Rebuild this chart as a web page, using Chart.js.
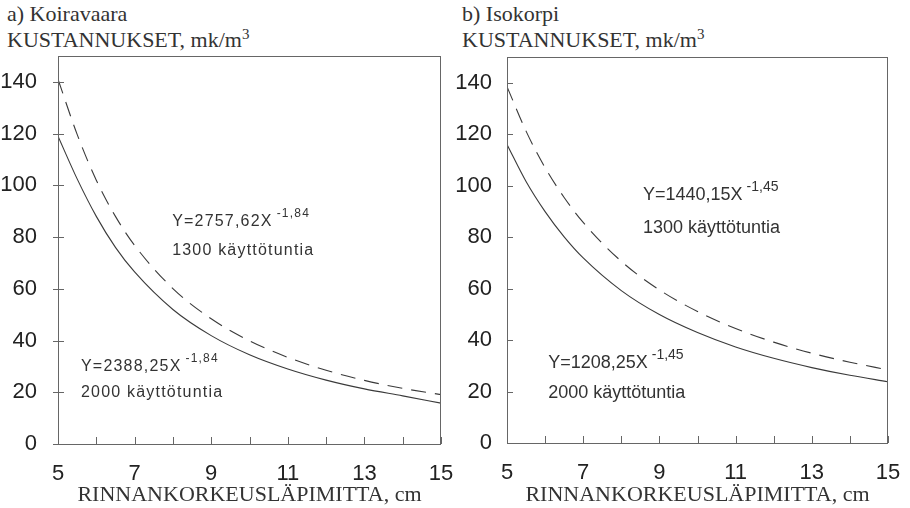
<!DOCTYPE html>
<html>
<head>
<meta charset="utf-8">
<script src="https://cdn.jsdelivr.net/npm/chart.js@4.4.1/dist/chart.umd.min.js"></script>
<style>
  body { margin: 0; background: #fff; width: 910px; height: 508px; position: relative; overflow: hidden; }
  .title { position: absolute; font-family: "Liberation Serif", "Times New Roman", serif; font-size: 22px; color: #333; line-height: 26px; }
  .title sup { font-size: 15px; vertical-align: 8px; line-height: 0; }
  .panel { position: absolute; top: 50px; width: 455px; height: 458px; }
  canvas { display: block; }
</style>
</head>
<body>
<div class="title" style="left:7px;top:1px">a) Koiravaara<br>KUSTANNUKSET, mk/m<sup>3</sup></div>
<div class="title" style="left:462px;top:1px">b) Isokorpi<br>KUSTANNUKSET, mk/m<sup>3</sup></div>
<div class="panel" style="left:0"><canvas id="chartA" width="455" height="458"></canvas></div>
<div class="panel" style="left:455px"><canvas id="chartB" width="455" height="458"></canvas></div>
<script>
// rinnankorkeusläpimitta, cm
const diameters = [5, 5.5, 6, 6.5, 7, 8, 9, 10, 11, 12, 13, 14, 15];
// a) Koiravaara, mk/m3
const koiraDashed = [141, 119.7, 102.0, 88.0, 76.8, 60.1, 48.4, 39.9, 33.5, 28.5, 24.6, 21.5, 19.1];
const koiraSolid = [119, 102.5, 88.0, 76.0, 66.5, 52.0, 41.9, 34.5, 29.0, 24.7, 21.3, 18.6, 15.8];
// b) Isokorpi, mk/m3
const isoDashed = [138.5, 121.2, 107.0, 95.4, 85.7, 70.6, 59.5, 51.1, 44.5, 39.2, 34.9, 31.4, 28.4];
const isoSolid = [116, 101.6, 89.9, 80.1, 71.9, 59.2, 49.9, 42.9, 37.3, 32.9, 29.3, 26.3, 23.8];
const xTicks = [5, 6, 7, 8, 9, 10, 11, 12, 13, 14, 15];
const xLabels = [5, 7, 9, 11, 13, 15];
const yTicks = [0, 20, 40, 60, 80, 100, 120, 140];

const ink = '#3a3a3a';
const sans = '"Liberation Sans", Arial, sans-serif';

const frame = {
  id: 'frame',
  afterDraw(chart, args, opts) {
    const { ctx, scales: { x, y } } = chart;
    const l = Math.round(x.getPixelForValue(5)), r = Math.round(x.getPixelForValue(15)) - 1;
    const t = Math.round(y.getPixelForValue(150)), b = Math.round(y.getPixelForValue(0));
    ctx.save();
    ctx.fillStyle = '#666';
    // box
    ctx.fillRect(l, t, r - l + 1, 1);
    ctx.fillRect(l, b, r - l + 1, 1);
    ctx.fillRect(l, t, 1, b - t + 1);
    ctx.fillRect(r, t, 1, b - t + 1);
    // ticks inside
    yTicks.forEach(v => {
      const py = Math.round(y.getPixelForValue(v));
      ctx.fillRect(l - opts.out, py, opts.out + 6, 1);
    });
    xTicks.forEach(v => {
      const px = Math.round(x.getPixelForValue(v));
      ctx.fillRect(px, b - 7, 1, 7);
    });
    // equations
    ctx.fillStyle = '#333';
    ctx.textBaseline = 'middle';
    ctx.letterSpacing = opts.spacing + 'px';
    opts.notes.forEach(n => {
      const px = x.getPixelForValue(n.x);
      ctx.font = opts.size + 'px ' + sans;
      ctx.fillText(n.eq, px, y.getPixelForValue(n.y));
      const w = ctx.measureText(n.eq).width;
      ctx.font = (opts.size - 4) + 'px ' + sans;
      ctx.fillText(n.exp, px + w + 4, y.getPixelForValue(n.y) - 8);
      ctx.font = opts.size + 'px ' + sans;
      ctx.fillText(n.hours, px, y.getPixelForValue(n.y2));
    });
    ctx.restore();
  }
};

const noPad = s => { s.paddingTop = 0; s.paddingBottom = 0; s.paddingLeft = 0; s.paddingRight = 0; };

function makeChart(id, dashed, solid, axisW, rightPad, topPad, bottom, notes, out, spacing, size, labelPad) {
  const pts = arr => arr.map((v, i) => ({ x: diameters[i], y: v }));
  new Chart(document.getElementById(id), {
    type: 'line',
    data: {
      datasets: [
        { data: pts(dashed), borderColor: ink, borderWidth: 1.1, borderDash: [15, 9], pointRadius: 0, cubicInterpolationMode: 'monotone' },
        { data: pts(solid), borderColor: ink, borderWidth: 1.1, pointRadius: 0, cubicInterpolationMode: 'monotone' },
      ],
    },
    options: {
      responsive: false,
      animation: false,
      layout: { autoPadding: false, padding: { top: topPad, right: rightPad, left: 0, bottom: 0 } },
      plugins: {
        legend: { display: false },
        tooltip: { enabled: false },
        frame: { notes, out, spacing, size },
      },
      scales: {
        x: {
          type: 'linear', min: 5, max: 15,
          afterBuildTicks: s => { s.ticks = xLabels.map(v => ({ value: v })); },
          afterFit: s => { s.height = 458 - bottom; noPad(s); },
          grid: { display: false },
          border: { display: false },
          ticks: { color: '#222', font: { family: sans, size: 22 }, padding: 9, maxRotation: 0 },
          title: { display: true, text: 'RINNANKORKEUSLÄPIMITTA, cm', color: '#333', font: { family: '"Liberation Serif", "Times New Roman", serif', size: 22 }, padding: { top: 0, bottom: 0 } },
        },
        y: {
          min: 0, max: 150,
          afterBuildTicks: s => { s.ticks = yTicks.map(v => ({ value: v })); },
          afterFit: s => { s.width = axisW; noPad(s); },
          grid: { display: false },
          border: { display: false },
          ticks: { color: '#222', font: { family: sans, size: 22 }, padding: labelPad },
        },
      },
    },
    plugins: [frame],
  });
}

makeChart('chartA', koiraDashed, koiraSolid, 58, 14, 6, 394, [
  { x: 7.98, y: 85.8, y2: 74.6, eq: 'Y=2757,62X', exp: '-1,84', hours: '1300 käyttötuntia' },
  { x: 5.6, y: 29.8, y2: 19.7, eq: 'Y=2388,25X', exp: '-1,84', hours: '2000 käyttötuntia' },
], 5, 1.2, 16, 13);

makeChart('chartB', isoDashed, isoSolid, 52, 22, 7, 393, [
  { x: 8.57, y: 96.4, y2: 83.6, eq: 'Y=1440,15X', exp: '-1,45', hours: '1300 käyttötuntia' },
  { x: 6.08, y: 31.1, y2: 19.4, eq: 'Y=1208,25X', exp: '-1,45', hours: '2000 käyttötuntia' },
], 0, 0, 18, 7);
</script>
</body>
</html>
